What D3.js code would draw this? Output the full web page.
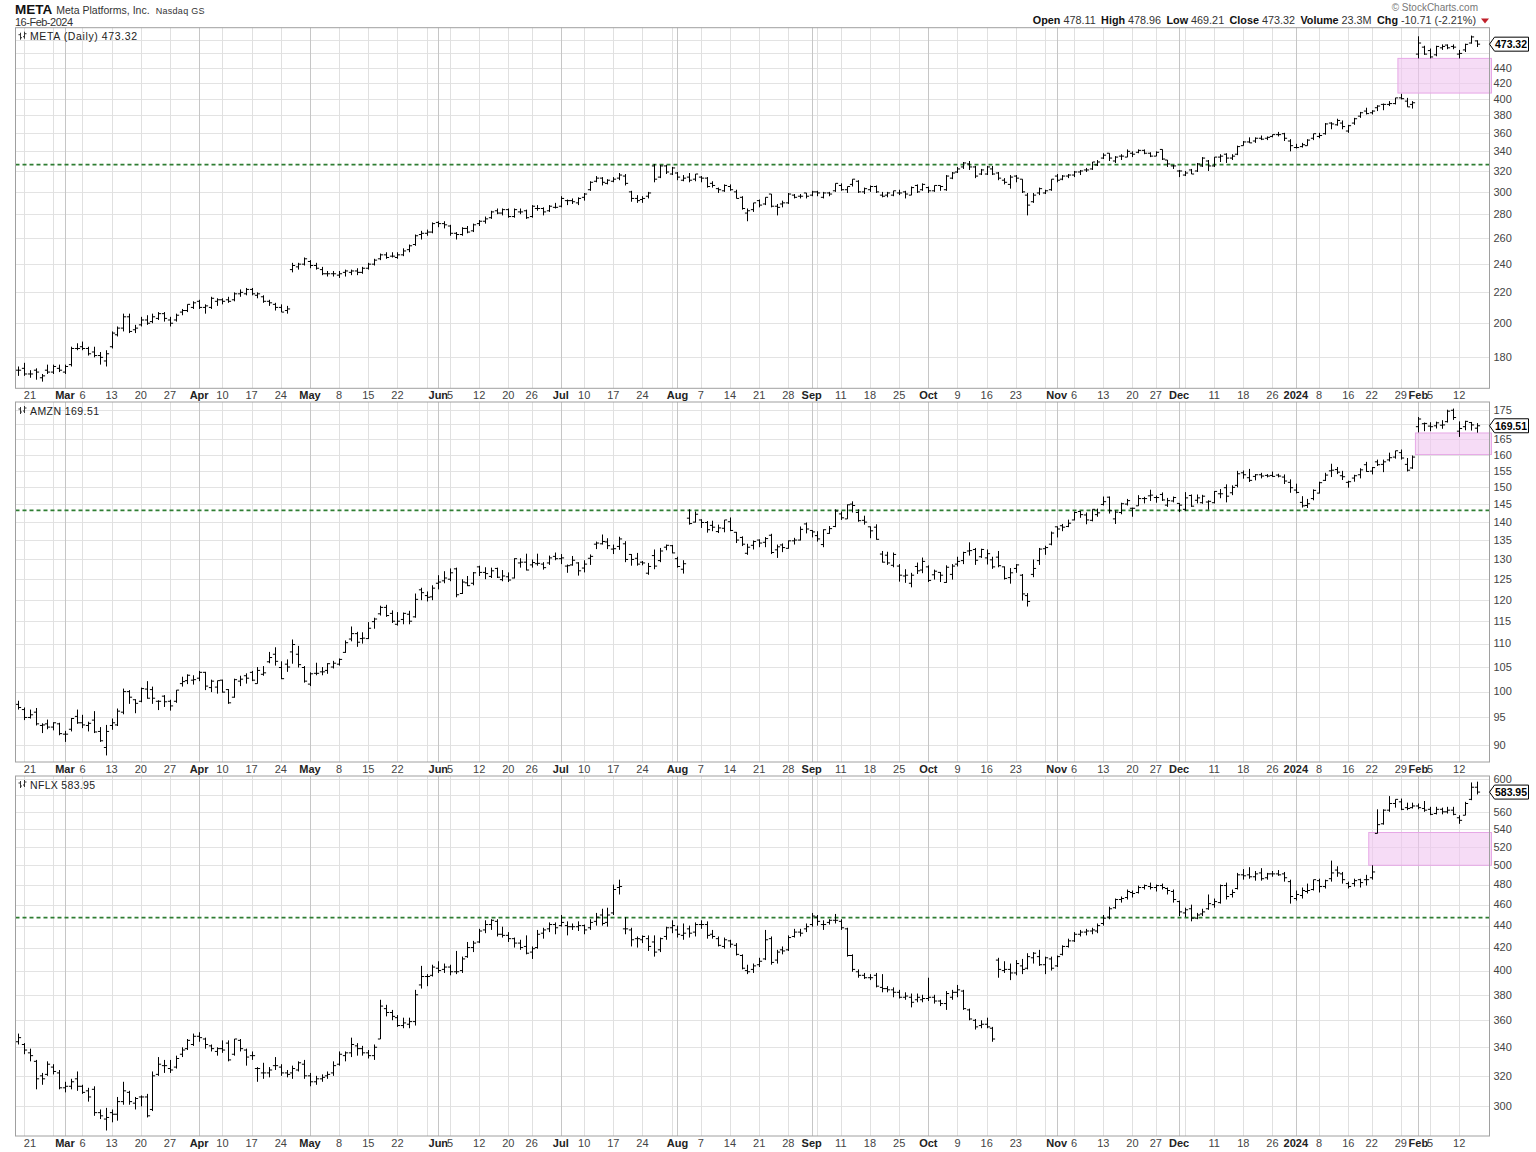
<!DOCTYPE html>
<html><head><meta charset="utf-8">
<script src="https://cdn.jsdelivr.net/npm/d3@7"></script>
<style>
body{margin:0;background:#fff}
svg{display:block}
text{font-family:"Liberation Sans",Arial,sans-serif}
</style>
</head><body>
<svg id="c" width="1536" height="1152"></svg>
<script>
// ---------------- DATA ----------------
const startDate = "2023-02-17", endDate = "2024-02-16";
const holidays = ["2023-04-07","2023-05-29","2023-06-19","2023-07-04","2023-09-04","2023-11-23","2023-12-25","2024-01-01","2024-01-15"];

// x-axis labels: [date, text, isMonth]
const axisLabels = [
["2023-02-21","21",0],["2023-03-01","Mar",1],["2023-03-06","6",0],["2023-03-13","13",0],["2023-03-20","20",0],["2023-03-27","27",0],
["2023-04-03","Apr",1],["2023-04-10","10",0],["2023-04-17","17",0],["2023-04-24","24",0],
["2023-05-01","May",1],["2023-05-08","8",0],["2023-05-15","15",0],["2023-05-22","22",0],
["2023-06-01","Jun",1],["2023-06-05","5",0],["2023-06-12","12",0],["2023-06-20","20",0],["2023-06-26","26",0],
["2023-07-03","Jul",1],["2023-07-10","10",0],["2023-07-17","17",0],["2023-07-24","24",0],
["2023-08-01","Aug",1],["2023-08-07","7",0],["2023-08-14","14",0],["2023-08-21","21",0],["2023-08-28","28",0],
["2023-09-01","Sep",1],["2023-09-11","11",0],["2023-09-18","18",0],["2023-09-25","25",0],
["2023-10-02","Oct",1],["2023-10-09","9",0],["2023-10-16","16",0],["2023-10-23","23",0],
["2023-11-01","Nov",1],["2023-11-06","6",0],["2023-11-13","13",0],["2023-11-20","20",0],["2023-11-27","27",0],
["2023-12-01","Dec",1],["2023-12-11","11",0],["2023-12-18","18",0],["2023-12-26","26",0],
["2024-01-02","2024",1],["2024-01-08","8",0],["2024-01-16","16",0],["2024-01-22","22",0],["2024-01-29","29",0],
["2024-02-01","Feb",1],["2024-02-05","5",0],["2024-02-12","12",0]
];

// daily bars [open, high, low, close]
const metaBars = [
[173,175,170,173],[174,177,170,171],[171,173,169,171],[173,174,168,172],[169,171,167,170],[173,176,171,172],[172,176,171,175],
[174,176,172,173],[172,176,171,175],[176,186,175,185],[185,188,184,185],[186,189,184,185],[185,186,181,182],[183,186,180,181],[181,183,176,180],[178,184,175,182],[186,195,185,194],[193,198,192,197],[197,206,195,204],[204,206,194,195],[196,199,194,197],[199,204,198,202],[202,205,199,200],[201,206,200,204],[203,207,202,206],[206,207,201,203],[202,204,198,200],[202,206,201,205],[207,209,205,208],[208,212,207,212],
[210,214,209,213],[214,215,209,210],[210,212,206,211],[210,217,209,216],[214,216,211,215],[215,216,212,214],[215,217,213,214],[215,220,214,219],[219,222,217,220],[219,223,218,222],[222,223,218,219],[218,220,216,219],[217,218,213,214],[214,215,211,213],[212,213,208,210],[210,212,207,207],[208,211,206,209],[236,241,234,239],[238,241,236,240],
[240,245,239,244],[242,243,237,239],[239,241,236,237],[236,238,232,233],[233,235,231,233],[233,235,231,233],[232,235,230,233],[234,236,231,235],[234,236,232,235],[235,237,232,234],[234,238,233,237],[237,241,236,240],[240,244,239,243],[244,248,243,247],[247,249,244,245],[246,249,245,246],[245,249,244,247],[247,252,246,250],[251,255,249,254],[255,263,254,262],[263,266,259,264],[264,267,262,265],
[265,273,264,272],[273,274,269,272],[272,274,268,271],[270,271,262,264],[264,265,259,263],[263,269,262,268],[268,270,264,265],[266,272,265,271],[272,275,270,274],[274,278,272,276],[277,283,276,282],[283,285,280,281],[281,285,279,284],[284,285,277,278],[278,285,277,284],[282,285,280,282],[283,284,276,277],[278,288,277,287],[285,288,283,285],[285,286,279,282],[283,288,282,287],
[286,290,285,286],[287,296,286,294],[292,293,288,292],[292,294,289,291],[290,295,288,294],[295,299,292,298],[302,310,301,309],[310,315,309,313],[313,314,306,309],[308,312,307,311],[310,314,309,312],[313,318,311,316],[315,317,306,308],[300,301,291,294],[294,297,290,292],[293,296,290,294],[296,300,294,299],[325,327,309,312],[314,326,313,325],[325,326,317,319],
[317,324,316,323],[318,319,311,314],[311,316,310,313],[314,318,309,311],[312,317,310,317],[314,315,309,313],[313,314,304,305],[308,310,304,306],[303,304,299,302],[301,307,300,306],[305,307,301,302],[300,302,294,294],[295,296,284,285],[281,285,274,283],[284,290,282,290],[292,293,286,288],[289,295,288,295],[298,298,286,287],[287,289,279,286],[289,292,286,290],[290,299,289,298],[297,298,294,295],[296,298,294,296],
[299,299,294,296],[297,301,296,300],[300,301,296,299],[295,300,294,299],[299,300,296,298],[301,308,300,308],[306,308,301,302],[302,305,299,305],[307,312,305,312],[310,311,299,300],[300,304,298,303],[302,306,300,305],[305,306,299,300],[297,300,295,296],[297,300,295,299],[297,301,296,301],[299,302,297,299],[300,301,294,298],[297,305,297,304],[306,307,299,300],
[302,308,301,307],[304,305,299,301],[301,306,300,306],[306,306,301,305],[302,316,301,315],[313,319,312,318],[319,324,318,322],[324,329,322,328],[327,330,321,324],[324,325,313,315],[317,322,316,321],[317,325,316,324],[322,325,316,317],[318,319,311,313],[311,313,307,309],[307,316,303,314],[315,316,309,313],[312,312,299,300],[297,299,279,288],[291,299,290,297],[299,304,297,303],[299,302,298,301],
[302,312,301,312],[315,317,309,311],[312,316,311,315],[315,317,313,316],[316,320,314,319],[319,321,316,320],[321,323,319,321],[322,329,321,329],[326,331,325,329],[333,338,332,336],[338,338,330,333],[330,335,328,334],[335,337,331,335],[334,342,334,340],[338,340,334,337],[339,342,338,341],[341,342,337,338],[338,339,334,335],[335,340,335,339],[342,342,331,332],[331,331,324,327],
[325,326,322,325],[320,321,314,320],[316,320,315,318],[321,322,317,317],[320,328,319,327],[325,334,324,333],[330,331,320,325],[325,334,324,334],[334,337,329,335],[337,338,328,333],[333,337,331,335],[337,346,336,345],[346,351,346,350],[350,355,349,349],[351,355,349,354],[354,357,352,353],[354,356,352,355],[356,358,355,358],[358,361,356,358],[359,360,351,354],
[351,353,340,346],[344,348,343,344],[345,349,344,347],[346,353,346,352],[354,359,352,359],[356,360,354,357],[359,371,358,370],[371,372,364,370],[369,376,368,374],[371,374,364,367],[362,369,360,368],[371,377,369,376],[379,384,377,383],[385,389,381,382],[383,386,381,385],[389,392,385,391],[393,394,386,393],[393,397,391,394],[394,401,393,401],[401,406,399,400],[397,401,390,390],
[393,397,388,395],[459,485,453,475],[469,471,458,459],[464,467,453,455],[458,471,456,470],[468,473,465,470],[472,473,466,468],[470,473,466,469],[459,465,453,460],[465,474,462,473],[475,486,474,484.03],[478.11,478.96,469.21,473.32]
];

const amznBars = [
[97.5,98.2,96.5,96.9],[96.5,96.9,94.5,95.0],[95.0,96.5,94.8,95.5],[96.0,96.8,93.5,93.8],[93.5,93.9,92.1,93.6],[93.8,94.6,92.8,93.2],[93.2,94.1,92.6,94.0],
[93.8,94.0,91.7,92.0],[91.9,92.5,90.5,91.9],[92.8,94.9,92.4,94.8],[95.2,96.5,93.8,94.0],[94.0,95.5,93.0,93.6],[93.5,94.2,92.4,93.9],[94.5,96.2,92.1,92.3],[92.4,93.2,90.5,90.7],[89.5,93.6,88.1,92.4],[93.5,94.8,92.7,94.0],[93.6,96.7,93.4,96.2],[96.0,100.6,95.6,100.0],[100.0,100.3,97.6,98.9],[98.4,98.5,95.8,97.7],[98.1,100.8,97.9,100.6],[100.5,102.1,98.6,98.7],[100.4,101.0,97.6,98.7],[98.1,98.3,96.4,98.1],[99.1,99.3,97.0,98.0],[98.1,98.4,96.3,97.2],[98.1,100.3,97.8,100.3],[101.6,103.0,101.0,102.0],[102.2,103.5,101.5,103.3],
[102.3,103.3,101.4,102.4],[102.7,104.2,102.1,103.9],[103.9,104.0,100.3,101.1],[100.8,102.4,99.9,102.1],[100.9,102.2,99.6,102.2],[102.3,102.4,99.8,99.9],[100.4,100.5,97.6,97.8],[98.9,102.6,98.8,102.4],[102.1,103.2,101.1,102.5],[103.2,103.7,101.6,102.7],[103.9,104.2,102.1,102.3],[101.6,105.0,101.6,104.3],[103.5,105.2,103.2,103.8],[106.1,108.2,105.8,107.0],[107.7,109.2,105.3,106.2],[104.9,106.2,102.5,102.6],[105.6,106.6,104.0,105.0],[108.2,110.9,105.7,109.8],[107.7,109.5,104.9,105.5],
[104.9,105.2,101.8,102.1],[101.5,103.9,101.1,103.6],[103.7,105.9,103.3,103.7],[104.0,105.0,103.3,104.0],[104.3,105.8,103.6,105.7],[105.0,106.3,104.7,105.8],[105.6,106.8,105.3,106.6],[108.1,110.7,108.0,110.2],[111.0,113.8,110.5,112.2],[112.2,112.6,109.3,110.3],[111.1,112.5,110.0,111.2],[111.1,114.8,111.0,113.4],[114.9,115.8,113.3,115.5],[116.7,118.6,116.3,118.2],[118.2,118.8,116.0,116.3],[116.8,117.5,114.6,115.0],[114.3,117.1,114.0,115.0],[115.4,117.0,114.3,116.8],[116.6,117.4,114.3,115.0],[116.0,121.5,115.8,120.1],[122.4,122.9,119.9,121.7],[121.0,122.0,119.6,120.6],
[120.7,123.5,119.9,122.8],[124.0,126.0,122.5,124.3],[124.6,127.0,124.0,125.3],[125.0,127.7,124.5,126.6],[127.6,127.9,120.6,121.2],[121.5,125.0,121.4,124.3],[124.1,125.8,123.3,123.4],[124.0,126.8,123.5,126.6],[128.1,128.4,125.8,126.7],[126.7,128.0,125.0,126.4],[125.7,127.9,125.3,127.1],[127.7,127.9,125.3,125.5],[124.9,127.3,124.5,125.8],[125.6,126.7,124.3,124.8],[125.3,130.3,125.2,130.2],[129.1,130.3,127.9,129.3],[129.3,131.5,127.2,127.3],[128.6,130.0,127.9,129.2],[128.9,131.5,128.4,129.0],[128.8,129.3,127.4,127.9],[129.1,131.0,128.6,130.4],
[130.8,131.8,129.8,130.2],[130.2,131.4,128.8,130.4],[128.3,128.7,126.6,128.4],[128.6,130.9,128.4,129.8],[129.1,129.3,125.9,127.1],[127.8,129.8,126.7,128.8],[130.3,131.3,128.6,130.8],[134.0,134.7,132.7,134.3],[134.1,136.6,133.9,134.7],[134.6,135.6,132.7,133.6],[132.7,133.9,131.4,132.8],[133.4,136.0,132.5,135.4],[134.1,134.8,129.3,130.0],[131.3,131.4,128.4,130.0],[130.3,131.7,128.4,128.8],[129.3,129.6,128.5,129.1],[126.5,129.1,126.1,128.2],[131.0,132.6,127.5,128.3],[129.7,133.0,129.3,132.2],[133.2,133.9,132.4,133.7],
[133.6,133.8,131.6,131.7],[130.2,130.7,127.9,128.2],[127.5,129.8,126.4,128.9],[141.1,143.6,139.3,139.6],[140.0,143.0,139.9,142.2],[140.6,140.8,138.4,139.9],[139.9,140.3,137.1,137.9],[139.1,140.4,137.5,138.6],[137.4,139.3,137.0,138.4],[138.3,140.6,137.2,140.6],[140.1,141.3,137.5,137.7],[137.2,137.3,134.3,135.1],[135.8,136.1,133.5,134.0],[131.6,134.1,131.2,133.2],[133.7,135.0,132.6,134.7],[135.1,135.3,133.2,134.3],[134.5,135.9,133.2,135.5],[136.4,136.8,131.4,131.8],[132.5,133.9,130.4,133.3],[133.8,134.2,131.9,133.1],[132.9,135.0,132.8,134.9],[134.9,135.7,133.9,135.1],[135.1,138.8,135.0,138.0],
[139.5,139.9,136.9,138.1],[137.7,137.8,135.8,137.3],[136.3,137.5,134.7,135.4],[133.9,138.0,133.2,137.9],[136.9,138.9,136.8,138.2],[138.8,143.6,138.6,143.1],[142.3,143.0,140.6,141.2],[140.9,145.0,140.9,144.9],[145.1,145.9,142.7,144.7],[142.7,143.6,140.1,140.4],[140.5,141.8,139.3,140.0],[138.7,138.8,135.6,137.6],[138.6,139.4,135.2,135.3],[131.4,132.2,129.2,129.3],[131.1,132.0,128.6,129.1],[128.5,131.8,128.0,131.3],[128.3,128.8,124.4,126.0],[125.8,127.5,124.1,126.0],[124.0,126.6,123.0,126.0],[128.2,129.2,126.3,127.1],
[127.3,130.5,126.5,129.5],[128.1,128.5,124.3,124.7],[126.1,127.4,124.9,127.0],[126.7,126.8,124.3,126.0],[124.2,128.5,124.1,128.0],[126.2,128.8,124.9,128.3],[128.8,130.7,128.2,129.5],[129.7,132.0,128.8,131.8],[132.2,134.5,131.0,132.3],[132.6,133.0,128.6,129.8],[130.7,132.8,130.4,132.6],[130.4,132.6,128.7,131.5],[129.9,130.7,127.6,128.1],[130.6,132.2,128.0,128.4],[128.1,128.2,124.9,125.2],[125.4,127.8,123.9,126.6],[127.7,128.8,126.6,128.6],[126.0,126.3,119.8,121.4],[121.0,121.6,118.4,119.6],[126.2,130.0,125.5,127.7],[129.7,133.0,128.6,132.7],[132.8,133.6,131.2,133.1],
[134.0,137.4,133.7,137.0],[138.7,138.8,135.8,138.1],[139.0,139.5,137.5,138.6],[138.8,140.7,138.6,139.7],[140.6,143.0,140.5,142.7],[143.0,143.1,141.2,142.1],[142.0,142.7,139.4,140.6],[140.5,143.6,140.2,143.6],[142.1,143.8,141.5,142.6],[145.0,147.3,144.7,145.8],[147.1,147.3,142.4,143.2],[140.9,143.3,139.5,142.8],[142.7,145.5,142.2,145.2],[145.1,146.6,144.7,146.1],[143.9,144.1,141.5,143.9],[144.6,147.7,144.6,146.7],[146.7,147.2,145.3,146.7],[147.5,149.3,146.0,147.7],[147.0,147.6,145.5,147.0],[147.9,148.5,146.0,146.3],[144.8,146.9,144.3,146.1],
[146.0,147.3,145.6,147.0],[145.3,145.4,142.8,144.8],[143.6,148.6,143.1,146.9],[147.6,147.9,144.3,144.5],[146.2,147.9,145.3,146.9],[145.5,147.8,145.2,147.4],[145.7,146.2,143.5,145.9],[145.5,148.9,145.3,148.8],[148.1,149.5,146.8,148.1],[149.9,150.9,145.6,147.4],[148.4,150.6,147.7,150.0],[150.6,155.0,150.0,154.1],[154.4,155.1,152.6,153.8],[152.9,155.6,151.6,152.1],[153.3,154.0,152.1,153.8],[153.8,154.4,152.7,153.4],[153.6,154.0,153.0,153.4],[153.6,154.8,153.1,153.3],[153.7,154.1,153.0,153.4],[153.1,153.9,151.0,151.9],
[151.5,152.4,148.4,149.9],[149.2,151.1,148.2,148.5],[145.6,147.4,144.1,144.6],[144.7,146.6,144.0,145.2],[146.7,149.4,146.2,149.1],[148.3,151.7,148.2,151.4],[152.1,154.4,151.9,153.7],[155.0,157.2,153.1,155.2],[155.4,156.2,154.0,154.6],[153.5,155.0,152.2,153.2],[151.5,152.0,149.9,151.7],[152.8,153.8,151.7,153.5],[153.8,155.8,152.7,155.3],[156.9,157.8,154.7,154.8],[154.9,156.2,153.9,156.0],[157.8,158.5,156.5,156.9],[157.0,158.5,154.6,157.8],[158.4,160.7,157.9,159.1],[159.3,161.3,158.8,161.3],[160.7,161.7,158.5,159.0],[157.0,159.0,154.8,155.2],
[155.9,159.8,155.6,159.3],[169.2,172.5,167.3,171.8],[170.2,170.6,167.7,170.3],[169.4,170.7,167.7,169.2],[169.5,170.9,168.6,170.5],[169.7,171.4,168.5,169.8],[170.9,175.0,170.6,174.5],[174.8,175.4,171.5,172.3],[167.7,171.0,165.8,168.6],[169.2,171.2,168.0,171.0],[170.6,170.8,167.9,169.8],[168.7,170.4,167.2,169.51]
];

const nflxBars = [
[344,350,342,347],[342,343,335,338],[336,339,330,334],[330,331,311,318],[320,322,314,318],[321,330,320,328],[326,328,321,323],
[322,324,311,312],[312,316,309,313],[313,318,311,316],[318,323,310,313],[313,314,308,309],[310,312,303,306],[311,313,294,296],[296,298,292,294],[292,299,285,293],[296,298,290,295],[295,306,291,303],[303,316,301,310],[309,310,301,303],[302,306,298,305],[306,307,300,306],[306,308,293,294],[298,323,297,320],[321,333,320,328],[327,331,322,327],[325,331,322,324],[326,334,325,332],[335,340,333,338],[339,346,338,345],
[342,350,341,348],[348,351,344,347],[346,347,339,342],[341,342,337,339],[337,340,334,339],[339,345,336,338],[343,345,330,331],[335,346,334,346],[345,346,337,339],[338,339,327,333],[334,337,331,334],[325,326,316,325],[322,329,318,322],[322,326,319,324],[327,333,324,327],[326,328,320,322],[322,324,319,321],[322,327,318,325],[324,330,323,329],
[328,331,318,320],[320,322,313,316],[316,320,314,318],[318,321,316,319],[320,323,318,321],[322,330,320,327],[328,337,327,335],[334,337,330,336],[336,347,333,342],[341,343,334,339],[339,341,334,336],[336,338,332,334],[334,342,331,340],[346,376,346,371],[369,372,363,366],[366,368,360,363],[362,364,355,356],[356,362,354,358],[357,362,354,359],[359,384,356,380],[388,404,385,395],[395,397,387,395],
[396,405,395,403],[402,408,398,400],[401,406,398,403],[403,405,396,399],[399,417,397,399],[400,412,398,410],[412,425,411,420],[420,426,416,424],[425,437,424,435],[436,445,433,441],[441,446,436,445],[444,446,430,432],[432,439,429,431],[431,434,425,428],[428,429,420,424],[424,427,418,420],[421,431,414,415],[416,421,410,419],[420,436,419,432],[433,438,428,436],[437,443,434,441],
[441,443,432,438],[440,450,439,443],[440,444,431,439],[439,442,436,439],[439,444,435,440],[440,441,432,436],[438,446,436,443],[444,452,440,448],[450,456,440,442],[443,457,439,450],[452,480,450,475],[477,485,470,478],[437,448,432,437],[436,438,421,427],[428,430,420,428],[427,431,424,430],[428,431,417,421],[425,431,412,416],[418,429,416,428],[430,439,427,438],
[438,445,433,440],[436,440,429,432],[431,442,427,433],[437,440,429,433],[434,443,430,441],[441,445,437,441],[441,444,428,431],[432,436,428,430],[428,430,421,422],[421,429,419,427],[426,427,420,423],[422,424,413,414],[413,414,401,402],[400,405,397,399],[401,406,398,404],[405,411,403,408],[410,436,409,427],[428,430,405,407],[409,418,406,416],[418,421,414,417],[418,431,417,429],[430,437,429,434],[434,437,430,433],
[437,442,434,439],[441,452,439,449],[448,450,440,444],[441,445,436,441],[443,446,441,445],[445,451,442,445],[444,446,436,438],[437,438,412,413],[413,414,399,401],[399,401,394,396],[396,398,393,394],[394,397,392,394],[396,398,386,387],[386,397,382,385],[385,387,382,384],[384,386,378,382],[382,384,377,378],[378,382,376,379],[378,381,370,374],[376,381,374,378],
[376,380,374,377],[377,394,375,378],[378,380,373,375],[375,376,371,373],[373,383,368,381],[378,384,376,382],[382,388,378,384],[383,384,368,369],[368,369,360,361],[360,361,353,355],[356,360,354,357],[357,362,354,355],[354,355,344,346],[409,411,394,401],[400,408,398,401],[401,406,392,398],[398,409,396,406],[404,410,397,401],[402,415,401,412],[411,416,406,415],[412,418,404,405],[405,412,397,411],
[410,412,400,402],[404,413,403,412],[414,422,413,421],[421,428,420,426],[426,434,425,432],[432,436,430,434],[434,437,431,435],[435,438,432,436],[435,442,433,440],[442,450,440,447],[448,458,446,456],[457,466,456,465],[465,468,462,466],[467,475,465,473],[472,474,467,471],[472,479,471,477],[477,480,475,479],[478,482,475,477],[477,480,473,479],[479,481,475,477],[476,477,470,474],
[473,475,462,465],[463,464,449,453],[452,457,448,455],[456,460,444,447],[447,452,446,450],[451,456,449,453],[456,470,455,461],[460,466,457,463],[462,480,461,479],[479,482,465,468],[470,475,467,472],[476,492,475,490],[490,496,485,489],[490,498,486,488],[488,494,484,491],[492,497,484,486],[487,492,485,491],[491,494,488,491],[491,495,489,490],[491,493,483,487],
[483,485,461,468],[466,474,464,470],[469,477,466,474],[473,481,471,474],[475,485,474,485],[484,486,472,478],[478,485,476,484],[486,505,483,492],[495,499,488,492],[491,493,481,485],[481,483,476,478],[481,486,478,484],[485,486,477,482],[485,490,479,485],[487,500,485,493],[535,563,535,545],[546,563,545,562],[562,579,560,570],[570,575,565,575],[572,576,562,563],[565,571,562,564],
[565,571,564,567],[567,570,563,565],[564,573,560,562],[563,566,556,557],[558,566,557,563],[563,565,557,560],[560,566,558,562],[562,566,556,557],[553,556,546,550],[556,572,556,570],[575,596,574,590],[590,597,581,583.95]
];

const metaTicks = [180,200,220,240,260,280,300,320,340,360,380,400,420,440,460,480];
const amznTicks = [90,95,100,105,110,115,120,125,130,135,140,145,150,155,160,165,170,175];
const nflxTicks = [300,320,340,360,380,400,420,440,460,480,500,520,540,560,580,600];

const metaLevel = 326.3, amznLevel = 143.3, nflxLevel = 447.5;
const metaGap = ["2024-01-29", 407, 453];
const amznGap = ["2024-02-01", 160.1, 167.1];
const nflxGap = ["2024-01-22", 500, 536];

const headerStats = [["Open", "478.11"], ["High", "478.96"], ["Low", "469.21"], ["Close", "473.32"], ["Volume", "23.3M"], ["Chg", "-10.71 (-2.21%)"]];

// ---------------- RENDER ----------------
const svg = d3.select("#c");
const parse = d3.timeParse("%Y-%m-%d"), fmt = d3.timeFormat("%Y-%m-%d");
const hol = new Set(holidays);
const dates = [];
for (let d = parse(startDate); d <= parse(endDate); d = d3.timeDay.offset(d, 1)) {
  const w = d.getDay(); if (w === 0 || w === 6) continue;
  const s = fmt(d); if (hol.has(s)) continue;
  dates.push(s);
}
const weekStarts = [], monthStarts = [];
dates.forEach((s, i) => {
  if (i === 0) return;
  const d = parse(s), p = parse(dates[i - 1]);
  if (d.getMonth() !== p.getMonth()) monthStarts.push(s);
  else if (d3.timeMonday.floor(d) > p) weekStarts.push(s);
});

const PL = 15.5, PR = 1489.5;
const x = d3.scalePoint().domain(dates).range([18.3, 1482.5]);
const step = x.step();
const cx = s => Math.round(x(s)) + 0.5;

const panels = [
  {title:"META (Daily) 473.32", tlen:107, bars:metaBars, ticks:metaTicks, dom:[163.6,498], top:27.7, bot:388.3, level:metaLevel, gap:metaGap, last:"473.32", axisY:399},
  {title:"AMZN 169.51", tlen:69, bars:amznBars, ticks:amznTicks, dom:[86.96,177.7], top:402, bot:762, level:amznLevel, gap:amznGap, last:"169.51", axisY:773},
  {title:"NFLX 583.95", tlen:65, bars:nflxBars, ticks:nflxTicks, dom:[281.7,604.2], top:776, bot:1136, level:nflxLevel, gap:nflxGap, last:"583.95", axisY:1147}
];

panels.forEach(P => {
  const y = d3.scaleLog().domain(P.dom).range([P.bot, P.top]);
  const g = svg.append("g");
  g.append("rect").attr("x", PL).attr("y", P.top).attr("width", PR - PL).attr("height", P.bot - P.top).attr("fill", "#fff");

  // horizontal grid
  g.selectAll(null).data(P.ticks.filter(t => y(t) > P.top && y(t) < P.bot)).join("line")
    .attr("x1", PL).attr("x2", PR)
    .attr("y1", d => Math.round(y(d)) + 0.5).attr("y2", d => Math.round(y(d)) + 0.5)
    .attr("stroke", "#e3e3e3").attr("stroke-width", 1);
  // vertical grid
  g.selectAll(null).data(weekStarts).join("line")
    .attr("x1", cx).attr("x2", cx).attr("y1", P.top).attr("y2", P.bot)
    .attr("stroke", "#e0e0e0").attr("stroke-width", 1);
  g.selectAll(null).data(monthStarts).join("line")
    .attr("x1", cx).attr("x2", cx).attr("y1", P.top).attr("y2", P.bot)
    .attr("stroke", "#c6c6c6").attr("stroke-width", 1);

  // gap box
  const gx = x(P.gap[0]) - step / 2;
  g.append("rect").attr("x", gx).attr("y", y(P.gap[2]))
    .attr("width", PR + 2 - gx).attr("height", y(P.gap[1]) - y(P.gap[2]))
    .attr("fill", "#f0c4f0").attr("fill-opacity", 0.6)
    .attr("stroke", "#e6a8e6").attr("stroke-width", 1);

  // level line
  g.append("line").attr("x1", PL).attr("x2", PR)
    .attr("y1", y(P.level)).attr("y2", y(P.level))
    .attr("stroke", "#2e7d32").attr("stroke-width", 1.6).attr("stroke-dasharray", "4,3");

  // OHLC bars
  const n = Math.min(P.bars.length, dates.length);
  const barData = P.bars.slice(0, n).map((b, i) => ({d: dates[i], o: b[0], h: b[1], l: b[2], c: b[3]}));
  g.append("g").selectAll("path").data(barData).join("path")
    .attr("d", b => {
      const X = cx(b.d);
      return `M${X},${y(b.h)}V${y(b.l)}M${X - 2.6},${y(b.o)}H${X}M${X},${y(b.c)}H${X + 2.6}`;
    })
    .attr("stroke", "#000").attr("stroke-width", 1).attr("fill", "none");

  // border
  g.append("rect").attr("x", PL).attr("y", P.top).attr("width", PR - PL).attr("height", P.bot - P.top)
    .attr("fill", "none").attr("stroke", "#a0a0a0").attr("stroke-width", 1);

  // price labels (those hidden behind the last-price marker are skipped)
  const ly = y(+P.last);
  g.selectAll(null).data(P.ticks.filter(t => y(t) > P.top - 2 && y(t) < P.bot && Math.abs(y(t) - ly) > 11)).join("text")
    .attr("x", PR + 4).attr("y", d => y(d)).attr("dy", "0.35em")
    .attr("font-size", 11).attr("fill", "#444").text(d => d);

  // last price marker
  g.append("path")
    .attr("d", `M${PR},${ly}L${PR + 5},${ly - 7}H${PR + 39}V${ly + 7}H${PR + 5}Z`)
    .attr("fill", "#fff").attr("stroke", "#000").attr("stroke-width", 1);
  g.append("text").attr("x", PR + 5.5).attr("y", ly).attr("dy", "0.36em")
    .attr("font-size", 11).attr("font-weight", "bold").attr("fill", "#000")
    .attr("textLength", 32).attr("lengthAdjust", "spacingAndGlyphs").text(P.last);

  // title with tiny bar icon
  const ty = P.top + 9;
  g.append("path")
    .attr("d", `M20.5,${ty - 4}V${ty + 3}M18.5,${ty - 2}H20.5M20.5,${ty + 1}H22M24.5,${ty - 5}V${ty + 2}M23,${ty}H24.5M24.5,${ty - 3}H26.5`)
    .attr("stroke", "#333").attr("stroke-width", 1).attr("fill", "none");
  g.append("text").attr("x", 30).attr("y", ty + 3.5)
    .attr("font-family", "'DejaVu Sans',Verdana,sans-serif").attr("font-size", 10.5)
    .attr("textLength", P.tlen).attr("lengthAdjust", "spacing")
    .attr("fill", "#222").text(P.title);

  // x-axis labels
  g.selectAll(null).data(axisLabels).join("text")
    .attr("x", d => x(d[0])).attr("y", P.axisY)
    .attr("text-anchor", "middle").attr("font-size", 11)
    .attr("font-weight", d => d[2] ? "bold" : "normal")
    .attr("fill", d => d[2] ? "#222" : "#444")
    .text(d => d[1]);
});

// header (left): one text line with tspans
const ttl = svg.append("text").attr("x", 15).attr("y", 14).attr("fill", "#333");
ttl.append("tspan").attr("font-size", 13.5).attr("font-weight", "bold").attr("fill", "#111").text("META");
ttl.append("tspan").attr("dx", 4).attr("font-size", 10.5).text("Meta Platforms, Inc.");
ttl.append("tspan").attr("dx", 6).attr("font-size", 9).attr("letter-spacing", 0.3).text("Nasdaq GS");
svg.append("text").attr("x", 15).attr("y", 25.5).attr("font-size", 11).attr("fill", "#333")
  .attr("textLength", 58).attr("lengthAdjust", "spacing").text("16-Feb-2024");

// header (right)
svg.append("text").attr("x", 1478).attr("y", 10.5).attr("text-anchor", "end").attr("font-size", 10).attr("fill", "#777").text("© StockCharts.com");
const hdr = svg.append("text").attr("x", 1476).attr("y", 24).attr("text-anchor", "end").attr("font-size", 10.8).attr("fill", "#333");
headerStats.forEach((p, i) => {
  hdr.append("tspan").attr("font-weight", "bold").attr("fill", "#111").text((i ? "\u2002" : "") + p[0] + " ");
  hdr.append("tspan").text(p[1]);
});
svg.append("path").attr("d", "M1481,18.5L1489,18.5L1485,23.5Z").attr("fill", "#c0202a");
</script>
</body></html>
